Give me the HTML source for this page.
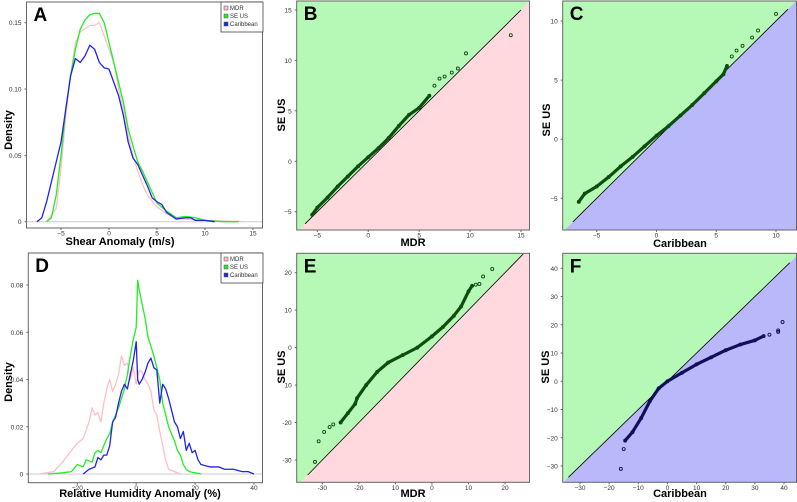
<!DOCTYPE html>
<html><head><meta charset="utf-8"><style>
html,body{margin:0;padding:0;background:#fff;overflow:hidden;width:797px;height:502px;}
svg{display:block;font-family:"Liberation Sans",Arial,sans-serif;}
</style></head><body>
<svg id="fig" width="797" height="502" viewBox="0 0 797 502"></svg>
<script>
// ---- Panel A data (Shear anomaly densities)
const aMdrX=[-6.5,-5.5,-5,-4.5,-4,-3.5,-3,-2,-1.5,-1,-0.5,0,0.5,1,1.5,2,2.5,3,3.5,4,5,6,7,8,10,14];
const aMdrY=[0,0.01,0.04,0.08,0.11,0.135,0.143,0.148,0.148,0.15,0.14,0.13,0.12,0.10,0.085,0.065,0.05,0.038,0.028,0.02,0.011,0.006,0.003,0.002,0.001,0];
const aSeX=[-6.5,-6,-5.5,-5,-4.5,-4,-3.5,-3,-2.5,-2,-1.5,-1,-0.5,0,0.5,1,1.5,2,2.5,3,3.5,4,4.5,5,6,7,8,9,10,12,13.5];
const aSeY=[0,0.003,0.02,0.05,0.085,0.11,0.13,0.145,0.152,0.156,0.157,0.157,0.15,0.135,0.12,0.105,0.09,0.07,0.057,0.045,0.038,0.03,0.022,0.014,0.008,0.003,0.004,0.003,0.001,0,0];
const aCaX=[-7.5,-7,-6.5,-6,-5.5,-5,-4.5,-4,-3.5,-3,-2.5,-2,-1.5,-1,-0.5,0,0.5,1,1.5,2,2.5,3,3.5,4,4.5,5,5.5,6,7,8,8.5,9,10,11];
const aCaY=[0,0.003,0.015,0.03,0.045,0.06,0.085,0.11,0.123,0.12,0.125,0.133,0.13,0.12,0.116,0.115,0.105,0.095,0.08,0.06,0.048,0.043,0.035,0.027,0.018,0.015,0.013,0.007,0.002,0.003,0.003,0.001,0.001,0];
const aXTicks=[-5,0,5,10,15];
const aYTicks=[0,0.05,0.10,0.15];
const aYLabels=["0","0.05","0.10","0.15"];
// ---- Panel D data (RH anomaly densities)
const dMdrX=[-33,-28,-25,-22,-20,-18,-16,-15,-14,-13,-12,-11,-10,-9,-8,-7,-6,-5,-4,-3,-2,-1,0,1,2,3,4,5,6,7,8,9,10,11,13,15];
const dMdrY=[0,0.001,0.005,0.01,0.013,0.015,0.022,0.028,0.025,0.026,0.022,0.03,0.036,0.04,0.035,0.038,0.042,0.05,0.046,0.047,0.04,0.045,0.038,0.044,0.043,0.04,0.038,0.035,0.027,0.025,0.018,0.012,0.006,0.002,0.001,0];
const dSeX=[-30,-25,-22,-20,-18,-17,-15,-14,-13,-12,-11,-10,-9,-8,-7,-6,-5,-4,-3,-2,-1,0,0.5,1,2,3,4,5,6,7,8,9,10,11,12,13,14,15,16,17,18,22];
const dSeY=[0,0.0005,0.001,0.004,0.003,0.006,0.005,0.009,0.01,0.009,0.012,0.015,0.017,0.022,0.025,0.028,0.032,0.036,0.042,0.05,0.057,0.062,0.082,0.078,0.072,0.066,0.058,0.054,0.05,0.045,0.04,0.03,0.025,0.02,0.017,0.014,0.01,0.008,0.004,0.002,0.001,0];
const dCaX=[-18,-16,-14,-13,-12,-11,-10,-9,-8,-7,-6,-5,-4,-3,-2,-1,0,0.5,1,2,3,4,5,6,7,8,9,10,11,12,13,14,15,16,17,18,19,20,21,22,25,28,30,33,36,38,40];
const dCaY=[0,0.002,0.003,0.007,0.006,0.008,0.008,0.012,0.022,0.024,0.03,0.035,0.038,0.036,0.042,0.048,0.056,0.04,0.038,0.04,0.043,0.047,0.049,0.045,0.044,0.03,0.038,0.036,0.032,0.027,0.022,0.02,0.015,0.018,0.01,0.013,0.009,0.01,0.006,0.004,0.003,0.003,0.002,0.002,0.001,0.001,0];
const dXTicks=[-20,0,20,40];
const dYTicks=[0,0.02,0.04,0.06,0.08];
const dYLabels=["0","0.02","0.04","0.06","0.08"];
// ---- QQ data
const bX=[-5.5,-5,-4,-3,-2,-1,0,1,2,3,4,5,6,6.5,7,7.5,8.2,8.8,9.6,14];
const bY=[-5.3,-4.6,-3.6,-2.5,-1.5,-0.5,0.4,1.3,2.3,3.5,4.6,5.3,6.5,7.5,8.2,8.4,8.8,9.2,10.7,12.5];
const cX=[-6.5,-6,-5,-4,-3,-2,-1,0,1,2,3,4,5,5.6,5.9,6.3,6.7,7.2,8,8.5,10];
const cY=[-5.3,-4.6,-4,-3.2,-2.3,-1.5,-0.6,0.3,1.1,2.0,2.9,3.9,4.9,5.5,6.2,7,7.5,7.9,8.6,9.2,10.6];
const eX=[-32,-31,-29.5,-28,-27,-25,-23,-21,-20.5,-18,-15,-12,-8,-4,0,3,6,8,10,11,12,13,14,16.5];
const eY=[-30.5,-25,-22.5,-21.2,-20.5,-20,-17.5,-15,-13.5,-10,-6.5,-4,-2,0,3,5.5,8.5,11,15,16.5,16.8,17,19,21];
const fX=[-16,-15,-14.5,-12,-9,-6,-3,0,5,10,15,20,25,30,33,35,38,38,39.5];
const fY=[-31,-24,-21,-18,-13,-7,-2.5,0,3,6,8.5,11,13,14.5,16,16.5,17.5,18,21];
const bTicks=[-5,0,5,10,15], cTicks=[-5,0,5,10];
const eXTicks=[-30,-20,-10,0,10,20], eXLabels=["-30","-20","10","0","10","20"];
const eYTicks=[-30,-20,-10,0,10,20], eYLabels=["-30","-20","10","0","10","20"];
const fTicks=[-30,-20,-10,0,10,20,30,40];

const NS="http://www.w3.org/2000/svg";
const svg=document.getElementById('fig');
function mk(tag,attrs,parent){const e=document.createElementNS(NS,tag);for(const k in attrs)e.setAttribute(k,attrs[k]);(parent||svg).appendChild(e);return e;}
function lin(d0,d1,r0,r1){const f=v=>r0+(v-d0)*(r1-r0)/(d1-d0);f.inv=p=>d0+(p-r0)*(d1-d0)/(r1-r0);return f;}
function txt(s,x,y,size,opts,parent){const t=mk('text',Object.assign({x:x,y:y,'font-size':size},opts||{}),parent);t.textContent=s;return t;}
// clip polygon (data space) to half-plane sign*(y-x)>=0
function clipHalf(poly,sign){const out=[];const f=p=>sign*(p[1]-p[0]);
  for(let i=0;i<poly.length;i++){const a=poly[i],b=poly[(i+1)%poly.length];const fa=f(a),fb=f(b);
    if(fa>=0)out.push(a);
    if((fa>=0)!==(fb>=0)){const t=fa/(fa-fb);out.push([a[0]+t*(b[0]-a[0]),a[1]+t*(b[1]-a[1])]);}}
  return out;}

function panel(p){
  const g=mk('g',{});
  
  
  const sx=lin(p.xd[0],p.xd[1],p.xr[0],p.xr[1]);
  const sy=lin(p.yd[0],p.yd[1],p.yr[0],p.yr[1]);
  const L=p.box[0],T=p.box[1],R=p.box[2],B=p.box[3];
  const cid='clip-'+p.letter;
  const cp=mk('clipPath',{id:cid},g);mk('rect',{x:L,y:T,width:R-L,height:B-T},cp);
  const inner=mk('g',{'clip-path':'url(#'+cid+')'},g);
  if(p.qq){
    const x0=sx.inv(L),x1=sx.inv(R),y0=sy.inv(B),y1=sy.inv(T);
    const boxPoly=[[x0,y0],[x1,y0],[x1,y1],[x0,y1]];
    const toPts=poly=>poly.map(q=>sx(q[0]).toFixed(2)+','+sy(q[1]).toFixed(2)).join(' ');
    const up=mk('polygon',{points:toPts(clipHalf(boxPoly,1)),fill:'#b6f9b6'},inner);
    
    const dn=mk('polygon',{points:toPts(clipHalf(boxPoly,-1)),fill:p.lowFill},inner);
    
    const dl=mk('line',{x1:sx(p.diag[0]),y1:sy(p.diag[0]),x2:sx(p.diag[1]),y2:sy(p.diag[1]),stroke:'#000','stroke-width':0.8},inner);
    
    const n=p.dense;
    const pl=mk('polyline',{points:p.px.slice(n[0],n[1]).map((v,i)=>sx(v)+','+sy(p.py[i+n[0]])).join(' '),fill:'none',stroke:p.ptColor,'stroke-width':3.2,'stroke-linecap':'round','stroke-linejoin':'round'},inner);
    
    p.px.forEach((v,i)=>{const c=mk('circle',{cx:sx(v),cy:sy(p.py[i]),r:1.5,fill:'none',stroke:p.ptColor,'stroke-width':0.9},inner);
      
      });
  } else {
    const zl=mk('line',{x1:L,x2:R,y1:sy(0),y2:sy(0),stroke:'#ccc','stroke-width':1},inner);
    
    p.series.forEach(s=>{const l=mk('polyline',{points:s.x.map((v,i)=>sx(v)+','+sy(s.y[i])).join(' '),fill:'none',stroke:s.color,'stroke-width':1.3,'stroke-linejoin':'round'},inner);
      
      });
  }
  const fr=mk('rect',{x:L,y:T,width:R-L-0.5,height:B-T,fill:'none',stroke:'#666','stroke-width':1},g);
  
  p.xt.forEach((v,i)=>{const t=txt(p.xl?p.xl[i]:String(v).replace('-','\u2212'),sx(v),B+7.5,6.5,{'text-anchor':'middle',fill:'#333'},g);
    
    mk('line',{x1:sx(v),x2:sx(v),y1:B,y2:B+2,stroke:'#666'},g);});
  p.yt.forEach((v,i)=>{const t=txt(p.yl?p.yl[i]:String(v).replace('-','\u2212'),L-5,sy(v)+2.5,6.5,{'text-anchor':'end',fill:'#333'},g);
    
    mk('line',{x1:L-2,x2:L,y1:sy(v),y2:sy(v),stroke:'#666'},g);});
  const xt=txt(p.xtitle,p.xtp[0],p.xtp[1],11,{'text-anchor':'middle','font-weight':'bold'},g);
  
  const yt=txt(p.ytitle,0,0,11,{'text-anchor':'middle','font-weight':'bold',transform:`translate(${p.ytp[0]},${p.ytp[1]}) rotate(-90)`},g);
  
  const pl=txt(p.letter,L+7,T+19,19,{'font-weight':'bold'},g);
  
  if(p.legend){
    const lg=mk('g',{},g);
    mk('rect',{x:R-42,y:T,width:42,height:30,fill:'#fff',stroke:'#444','stroke-width':0.8},lg);
    [['MDR','#ffc0cb'],['SE US','#22ee22'],['Caribbean','#2222ee']].forEach((e,i)=>{
      const en=mk('g',{},lg);
      
      
      mk('rect',{x:R-39,y:T+4+i*8,width:4,height:4,fill:e[1],stroke:'#555','stroke-width':0.5},en);
      txt(e[0],R-33,T+8+i*8,6,{fill:'#333'},en);});
  }
}

panel({name:'panel-a-shear-density',letter:'A',box:[26.5,2,263,228],xd:[-5,15],xr:[61,253],yd:[0,0.15],yr:[221.7,22.7],
  series:[{name:'mdr-density-line',x:aMdrX,y:aMdrY,color:'#ffbfc8'},{name:'seus-density-line',x:aSeX,y:aSeY,color:'#22ee22'},{name:'caribbean-density-line',x:aCaX,y:aCaY,color:'#2222ee'}],
  xt:aXTicks,yt:aYTicks,yl:aYLabels,xtitle:'Shear Anomaly (m/s)',xtp:[120,245],ytitle:'Density',ytp:[12,130],legend:true});
panel({name:'panel-d-rh-density',letter:'D',box:[28.3,253,263,482.7],xd:[-20,40],xr:[77.3,254],yd:[0,0.08],yr:[474,285],
  series:[{name:'mdr-density-line',x:dMdrX,y:dMdrY,color:'#ffbfc8'},{name:'seus-density-line',x:dSeX,y:dSeY,color:'#22ee22'},{name:'caribbean-density-line',x:dCaX,y:dCaY,color:'#2222ee'}],
  xt:dXTicks,yt:dYTicks,yl:dYLabels,xtitle:'Relative Humidity Anomaly (%)',xtp:[140,497],ytitle:'Density',ytp:[12,382],legend:true});
panel({name:'panel-b-qq',letter:'B',qq:true,box:[296.7,1,530,230],xd:[-5,15],xr:[317.3,521],yd:[-5,15],yr:[211.7,10],lowFill:'#ffd9de',ptColor:'#0e4d0e',
  diag:[-6.2,15],px:bX,py:bY,dense:[0,13],xt:bTicks,yt:bTicks,xtitle:'MDR',xtp:[413,246],ytitle:'SE US',ytp:[285,115]});
panel({name:'panel-c-qq',letter:'C',qq:true,box:[562.7,1,797,230],xd:[-5,10],xr:[596.7,776],yd:[-5,10],yr:[198.3,21],lowFill:'#b8b8fa',ptColor:'#0e4d0e',
  diag:[-7,11],px:cX,py:cY,dense:[0,15],xt:cTicks,yt:cTicks,xtitle:'Caribbean',xtp:[680,247],ytitle:'SE US',ytp:[550,120]});
panel({name:'panel-e-qq',letter:'E',qq:true,box:[296.7,253.3,530,482.3],xd:[-30,20],xr:[322.3,505],yd:[-30,20],yr:[460,272.7],lowFill:'#ffd9de',ptColor:'#0e4d0e',
  diag:[-34,25],px:eX,py:eY,dense:[5,20],xt:eXTicks,xl:eXLabels,yt:eYTicks,yl:eYLabels,xtitle:'MDR',xtp:[413,497],ytitle:'SE US',ytp:[285,367]});
panel({name:'panel-f-qq',letter:'F',qq:true,box:[562.7,253.3,797,482.3],xd:[-30,40],xr:[580,784],yd:[-30,40],yr:[466,268.3],lowFill:'#b8b8fa',ptColor:'#10105a',
  diag:[-34,42],px:fX,py:fY,dense:[2,15],xt:fTicks,yt:fTicks,xtitle:'Caribbean',xtp:[680,497],ytitle:'SE US',ytp:[549,367]});
</script>
</body></html>
